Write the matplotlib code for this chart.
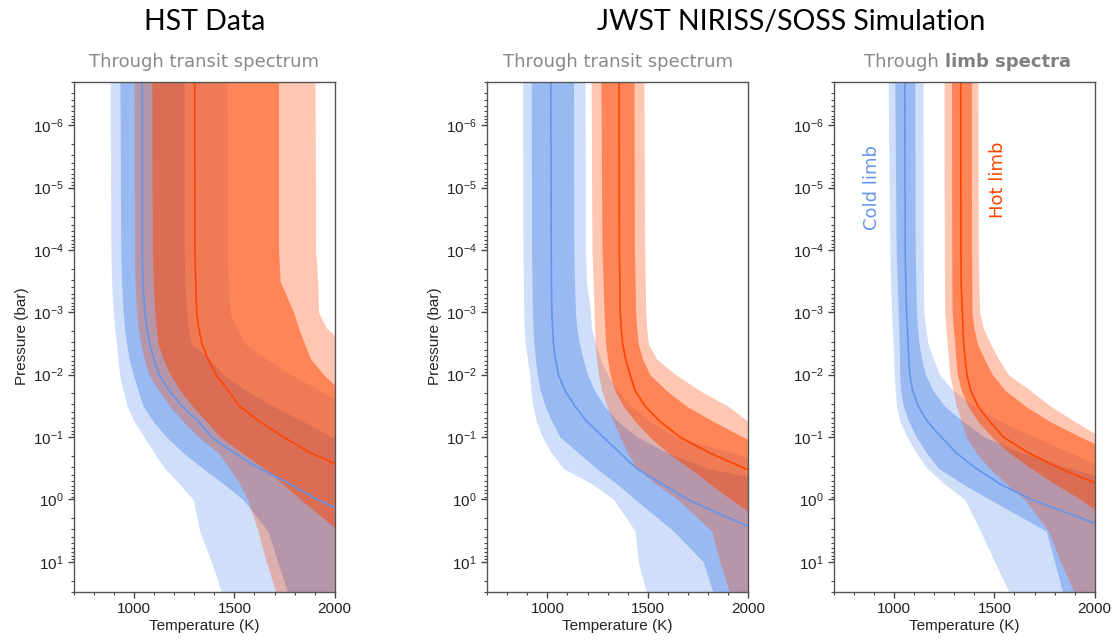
import matplotlib
matplotlib.use("Agg")
import matplotlib.pyplot as plt
from matplotlib.ticker import FixedLocator, LogLocator, MultipleLocator, NullFormatter

plt.rcParams['font.family'] = ['Liberation Sans', 'DejaVu Sans']

# pressure grid (bar) shared by all profiles
pressure = [2e-7, 1e-4, 3.2e-4, 1e-3, 1.8e-3, 3.2e-3, 5.6e-3, 1e-2, 1.8e-2, 3.2e-2,
            5.6e-2, 0.1, 0.18, 0.32, 0.56, 1.0, 3.2, 10.0, 32.0]

# --- HST data, through transit spectrum ---
hst_cold_lo2 = [880, 884, 887, 896, 903, 912, 919, 927, 945, 965, 1000, 1050, 1100, 1153, 1225, 1294, 1327, 1385, 1437]
hst_cold_lo1 = [929, 933, 937, 945, 952, 962, 975, 995, 1020, 1045, 1095, 1161, 1245, 1343, 1445, 1542, 1667, 1716, 1766]
hst_cold_med = [1040, 1041, 1043, 1053, 1063, 1078, 1098, 1125, 1175, 1240, 1320, 1385, 1500, 1625, 1775, 1913, 2250, 2400, 2400]
hst_cold_hi1 = [1249, 1250, 1252, 1261, 1270, 1285, 1377, 1443, 1559, 1692, 1841, 1985, 2150, 2300, 2400, 2400, 2400, 2400, 2400]
hst_cold_hi2 = [1463, 1465, 1468, 1478, 1510, 1552, 1660, 1780, 1930, 2060, 2200, 2300, 2400, 2400, 2400, 2400, 2400, 2400, 2400]
hst_hot_lo2 = [1000, 1002, 1004, 1012, 1021, 1033, 1050, 1073, 1124, 1178, 1244, 1322, 1420, 1476, 1526, 1567, 1617, 1659, 1708]
hst_hot_lo1 = [1088, 1090, 1095, 1103, 1110, 1119, 1145, 1180, 1230, 1290, 1360, 1430, 1540, 1650, 1740, 1830, 2020, 2200, 2300]
hst_hot_med = [1302, 1303, 1307, 1312, 1322, 1338, 1368, 1408, 1470, 1525, 1625, 1745, 1880, 2056, 2250, 2400, 2400, 2400, 2400]
hst_hot_hi1 = [1720, 1720, 1728, 1795, 1820, 1850, 1880, 1945, 2030, 2150, 2300, 2400, 2400, 2400, 2400, 2400, 2400, 2400, 2400]
hst_hot_hi2 = [1902, 1905, 1915, 1920, 1960, 2050, 2150, 2250, 2300, 2400, 2400, 2400, 2400, 2400, 2400, 2400, 2400, 2400, 2400]

# --- JWST simulation, through transit spectrum ---
jt_cold_lo2 = [876, 878, 880, 882, 884, 890, 900, 912, 918, 928, 945, 975, 1020, 1080, 1220, 1330, 1437, 1453, 1495]
jt_cold_lo1 = [919, 921, 923, 925, 928, 933, 940, 950, 965, 989, 1022, 1063, 1155, 1246, 1345, 1437, 1628, 1777, 1827]
jt_cold_med = [1017, 1019, 1020, 1022, 1026, 1030, 1040, 1055, 1088, 1138, 1196, 1279, 1362, 1445, 1570, 1700, 2049, 2300, 2400]
jt_cold_hi1 = [1130, 1132, 1135, 1140, 1147, 1160, 1178, 1200, 1235, 1285, 1350, 1450, 1600, 1800, 2185, 2300, 2400, 2400, 2400]
jt_cold_hi2 = [1188, 1190, 1195, 1215, 1220, 1240, 1265, 1300, 1350, 1420, 1510, 1640, 1930, 2150, 2300, 2400, 2400, 2400, 2400]
jt_hot_lo2 = [1218, 1222, 1228, 1233, 1235, 1238, 1245, 1254, 1271, 1296, 1329, 1362, 1400, 1445, 1540, 1650, 1819, 1860, 1910]
jt_hot_lo1 = [1267, 1272, 1278, 1282, 1286, 1290, 1300, 1312, 1337, 1378, 1437, 1511, 1602, 1711, 1810, 1915, 2140, 2300, 2400]
jt_hot_med = [1357, 1359, 1361, 1363, 1368, 1375, 1390, 1412, 1437, 1487, 1561, 1661, 1810, 1985, 2200, 2400, 2400, 2400, 2400]
jt_hot_hi1 = [1432, 1434, 1437, 1440, 1445, 1453, 1475, 1511, 1594, 1694, 1827, 1976, 2150, 2300, 2400, 2400, 2400, 2400, 2400]
jt_hot_hi2 = [1481, 1485, 1488, 1490, 1495, 1503, 1545, 1640, 1760, 1901, 2000, 2150, 2300, 2400, 2400, 2400, 2400, 2400, 2400]

# --- JWST simulation, through limb spectra ---
jl_cold_lo2 = [970, 978, 982, 987, 991, 995, 998, 1000, 1005, 1012, 1028, 1064, 1110, 1165, 1250, 1352, 1430, 1501, 1576]
jl_cold_lo1 = [1003, 1010, 1015, 1020, 1023, 1025, 1027, 1028, 1032, 1046, 1072, 1111, 1161, 1223, 1340, 1476, 1758, 1800, 1841]
jl_cold_med = [1053, 1055, 1058, 1062, 1066, 1070, 1073, 1078, 1092, 1120, 1165, 1235, 1310, 1410, 1526, 1684, 2100, 2400, 2400]
jl_cold_hi1 = [1103, 1105, 1108, 1111, 1117, 1124, 1138, 1156, 1194, 1252, 1343, 1450, 1640, 1880, 2150, 2300, 2400, 2400, 2400]
jl_cold_hi2 = [1144, 1145, 1146, 1148, 1157, 1169, 1195, 1227, 1294, 1400, 1530, 1700, 1880, 2060, 2250, 2400, 2400, 2400, 2400]
jl_hot_lo2 = [1249, 1250, 1251, 1252, 1258, 1265, 1271, 1277, 1294, 1310, 1335, 1360, 1410, 1476, 1560, 1650, 1770, 1830, 1900]
jl_hot_lo1 = [1286, 1287, 1288, 1289, 1295, 1302, 1308, 1315, 1335, 1368, 1418, 1488, 1576, 1684, 1800, 1930, 2150, 2300, 2400]
jl_hot_med = [1332, 1333, 1334, 1340, 1343, 1347, 1354, 1363, 1382, 1418, 1476, 1545, 1670, 1830, 2010, 2250, 2400, 2400, 2400]
jl_hot_hi1 = [1385, 1386, 1387, 1388, 1398, 1415, 1450, 1490, 1555, 1655, 1775, 1930, 2100, 2300, 2400, 2400, 2400, 2400, 2400]
jl_hot_hi2 = [1418, 1420, 1422, 1426, 1445, 1480, 1520, 1570, 1680, 1780, 1900, 2030, 2200, 2400, 2400, 2400, 2400, 2400, 2400]

subtitles = ["Through transit spectrum", "Through transit spectrum", None]
ytick_values = [1e-6, 1e-5, 1e-4, 1e-3, 1e-2, 1e-1, 1e0, 1e1]

COLD = 'cornflowerblue'
HOT = 'orangered'

panels = [
    ((hst_cold_lo2, hst_cold_lo1, hst_cold_med, hst_cold_hi1, hst_cold_hi2),
     (hst_hot_lo2, hst_hot_lo1, hst_hot_med, hst_hot_hi1, hst_hot_hi2)),
    ((jt_cold_lo2, jt_cold_lo1, jt_cold_med, jt_cold_hi1, jt_cold_hi2),
     (jt_hot_lo2, jt_hot_lo1, jt_hot_med, jt_hot_hi1, jt_hot_hi2)),
    ((jl_cold_lo2, jl_cold_lo1, jl_cold_med, jl_cold_hi1, jl_cold_hi2),
     (jl_hot_lo2, jl_hot_lo1, jl_hot_med, jl_hot_hi1, jl_hot_hi2)),
]

fig = plt.figure(figsize=(11.16, 6.44), dpi=100)
lefts = [0.0663, 0.4366, 0.7473]

axes = []
for i, (cold, hot) in enumerate(panels):
    ax = fig.add_axes([lefts[i], 0.0814, 0.2336, 0.7919])
    axes.append(ax)
    # bands: blue first, red on top
    for prof, col in ((cold, COLD), (hot, HOT)):
        lo2, lo1, med, hi1, hi2 = prof
        ax.fill_betweenx(pressure, lo2, hi2, color=col, alpha=0.3, lw=0)
        ax.fill_betweenx(pressure, lo1, hi1, color=col, alpha=0.5, lw=0)
    ax.plot(cold[2], pressure, color=COLD, lw=1.2)
    ax.plot(hot[2], pressure, color=HOT, lw=1.2)

    ax.set_yscale('log')
    ax.set_ylim(30, 2e-7)
    ax.set_xlim(700, 2000)
    ax.xaxis.set_major_locator(MultipleLocator(500))
    ax.xaxis.set_minor_locator(MultipleLocator(100))
    ax.yaxis.set_major_locator(FixedLocator(ytick_values))
    ax.yaxis.set_minor_locator(LogLocator(base=10, subs=range(2, 10), numticks=20))
    ax.yaxis.set_minor_formatter(NullFormatter())
    ax.tick_params(which='major', length=4, width=1, color='#444444',
                   labelsize=11, labelcolor='#222222')
    ax.tick_params(which='minor', length=2, width=0.8, color='#444444')
    for sp in ax.spines.values():
        sp.set_color('#555555')
        sp.set_linewidth(1.0)
    ax.set_xlabel('Temperature (K)', fontsize=11, color='#222222', labelpad=2)
    if i < 2:
        ax.set_ylabel('Pressure (bar)', fontsize=11, color='#222222', labelpad=3)
    if subtitles[i]:
        ax.text(0.5, 1.038, subtitles[i], transform=ax.transAxes, ha='center',
                va='center', fontsize=13, color='#888888', family='DejaVu Sans')

ax3 = axes[2]
ax3.text(0.4034, 1.038, 'Through', transform=ax3.transAxes, ha='right',
         va='center', fontsize=13, color='#888888', family='DejaVu Sans')
ax3.text(0.4264, 1.038, 'limb spectra', transform=ax3.transAxes, ha='left',
         va='center', fontsize=13, color='#808080', family='DejaVu Sans',
         fontweight='bold')
ax3.text(889, 1e-5, 'Cold limb', rotation=90, ha='center', va='center',
         fontsize=13, color=COLD, family='DejaVu Sans')
ax3.text(1516, 7.6e-6, 'Hot limb', rotation=90, ha='center', va='center',
         fontsize=13, color=HOT, family='DejaVu Sans')

fig.text(0.1833, 0.9658, 'HST Data', ha='center', va='center',
         fontsize=20.5, family='Lato')
fig.text(0.7088, 0.9658, 'JWST NIRISS/SOSS Simulation', ha='center',
         va='center', fontsize=20.5, family='Lato')

fig.savefig('out.png', dpi=100)
